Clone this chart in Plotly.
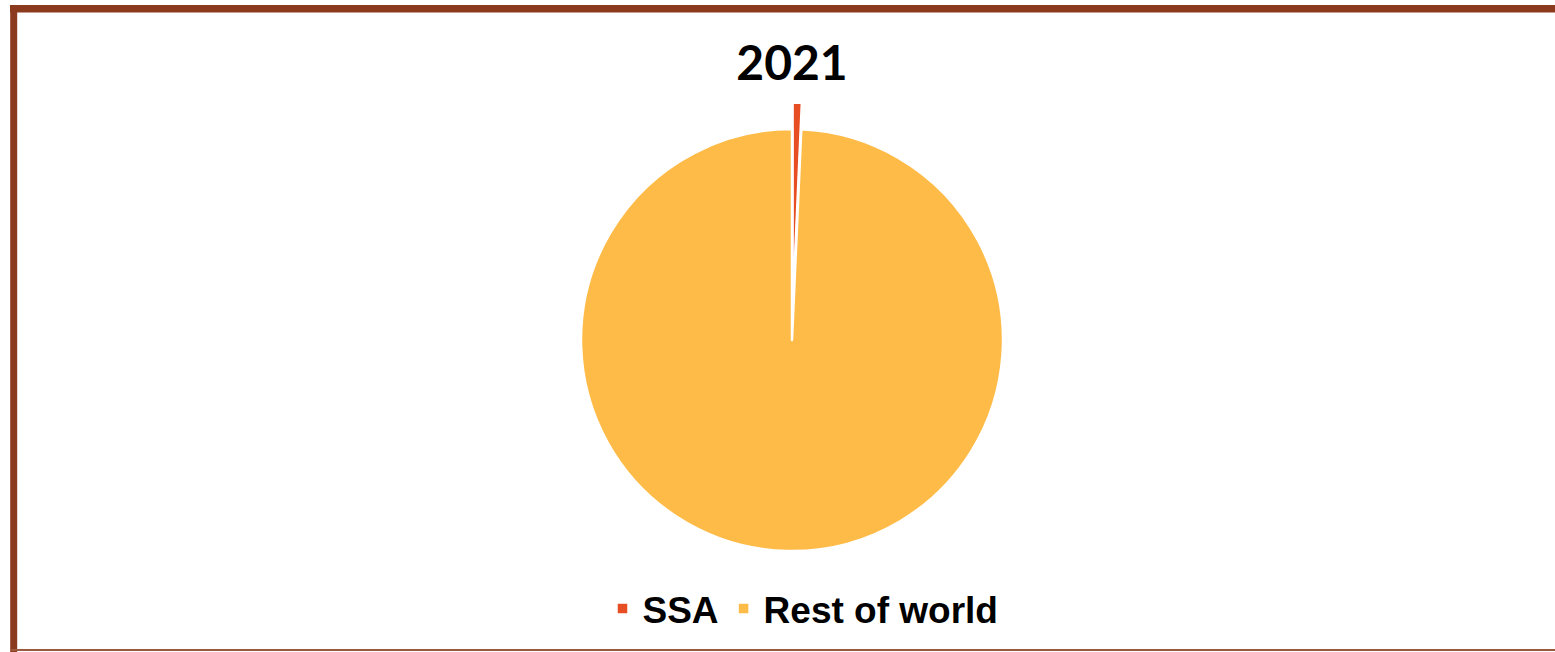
import plotly.graph_objects as go

# Data
labels = ["SSA", "Rest of world"]
shares = [0.7, 99.3]
colors = ["#E84E24", "#FFBB47"]
pulls = [0.125, 0.0]
title_text = "2021"

W, H = 1555, 652
cx, cy, r = 792, 340, 211
maxpull = max(pulls)
half = r * (1 + maxpull)

fig = go.Figure(
    go.Pie(
        labels=labels,
        values=shares,
        marker=dict(colors=colors, line=dict(color="white", width=2.5)),
        pull=pulls,
        sort=False,
        direction="clockwise",
        rotation=0,
        textinfo="none",
        hoverinfo="label+percent",
        domain=dict(
            x=[(cx - 400) / W, (cx + 400) / W],
            y=[(H - cy - half) / H, (H - cy + half) / H],
        ),
    )
)

fig.update_layout(
    width=W,
    height=H,
    margin=dict(l=0, r=0, t=0, b=0, autoexpand=False),
    paper_bgcolor="white",
    plot_bgcolor="white",
    title=dict(
        text="<b>" + title_text + "</b>",
        x=cx / W,
        xanchor="center",
        y=(H - 63) / H,
        yanchor="middle",
        font=dict(family="Lato", size=48, color="black"),
    ),
    legend=dict(
        orientation="h",
        x=803 / W,
        xanchor="center",
        y=(H - 609) / H,
        yanchor="middle",
        font=dict(family="Liberation Sans", size=37, color="black", weight="bold"),
        traceorder="normal",
    ),
    showlegend=True,
    shapes=[
        dict(type="line", xref="paper", yref="paper",
             x0=13.7 / W, x1=13.7 / W, y0=0, y1=(H - 5) / H,
             line=dict(color="#8B3A1E", width=7)),
        dict(type="line", xref="paper", yref="paper",
             x0=10 / W, x1=1.0, y0=(H - 8.8) / H, y1=(H - 8.8) / H,
             line=dict(color="#8B3A1E", width=7.5)),
        dict(type="line", xref="paper", yref="paper",
             x0=10 / W, x1=1.0, y0=(H - 650) / H, y1=(H - 650) / H,
             line=dict(color="#9B5A40", width=2)),
    ],
)

fig.write_html("out.html")
